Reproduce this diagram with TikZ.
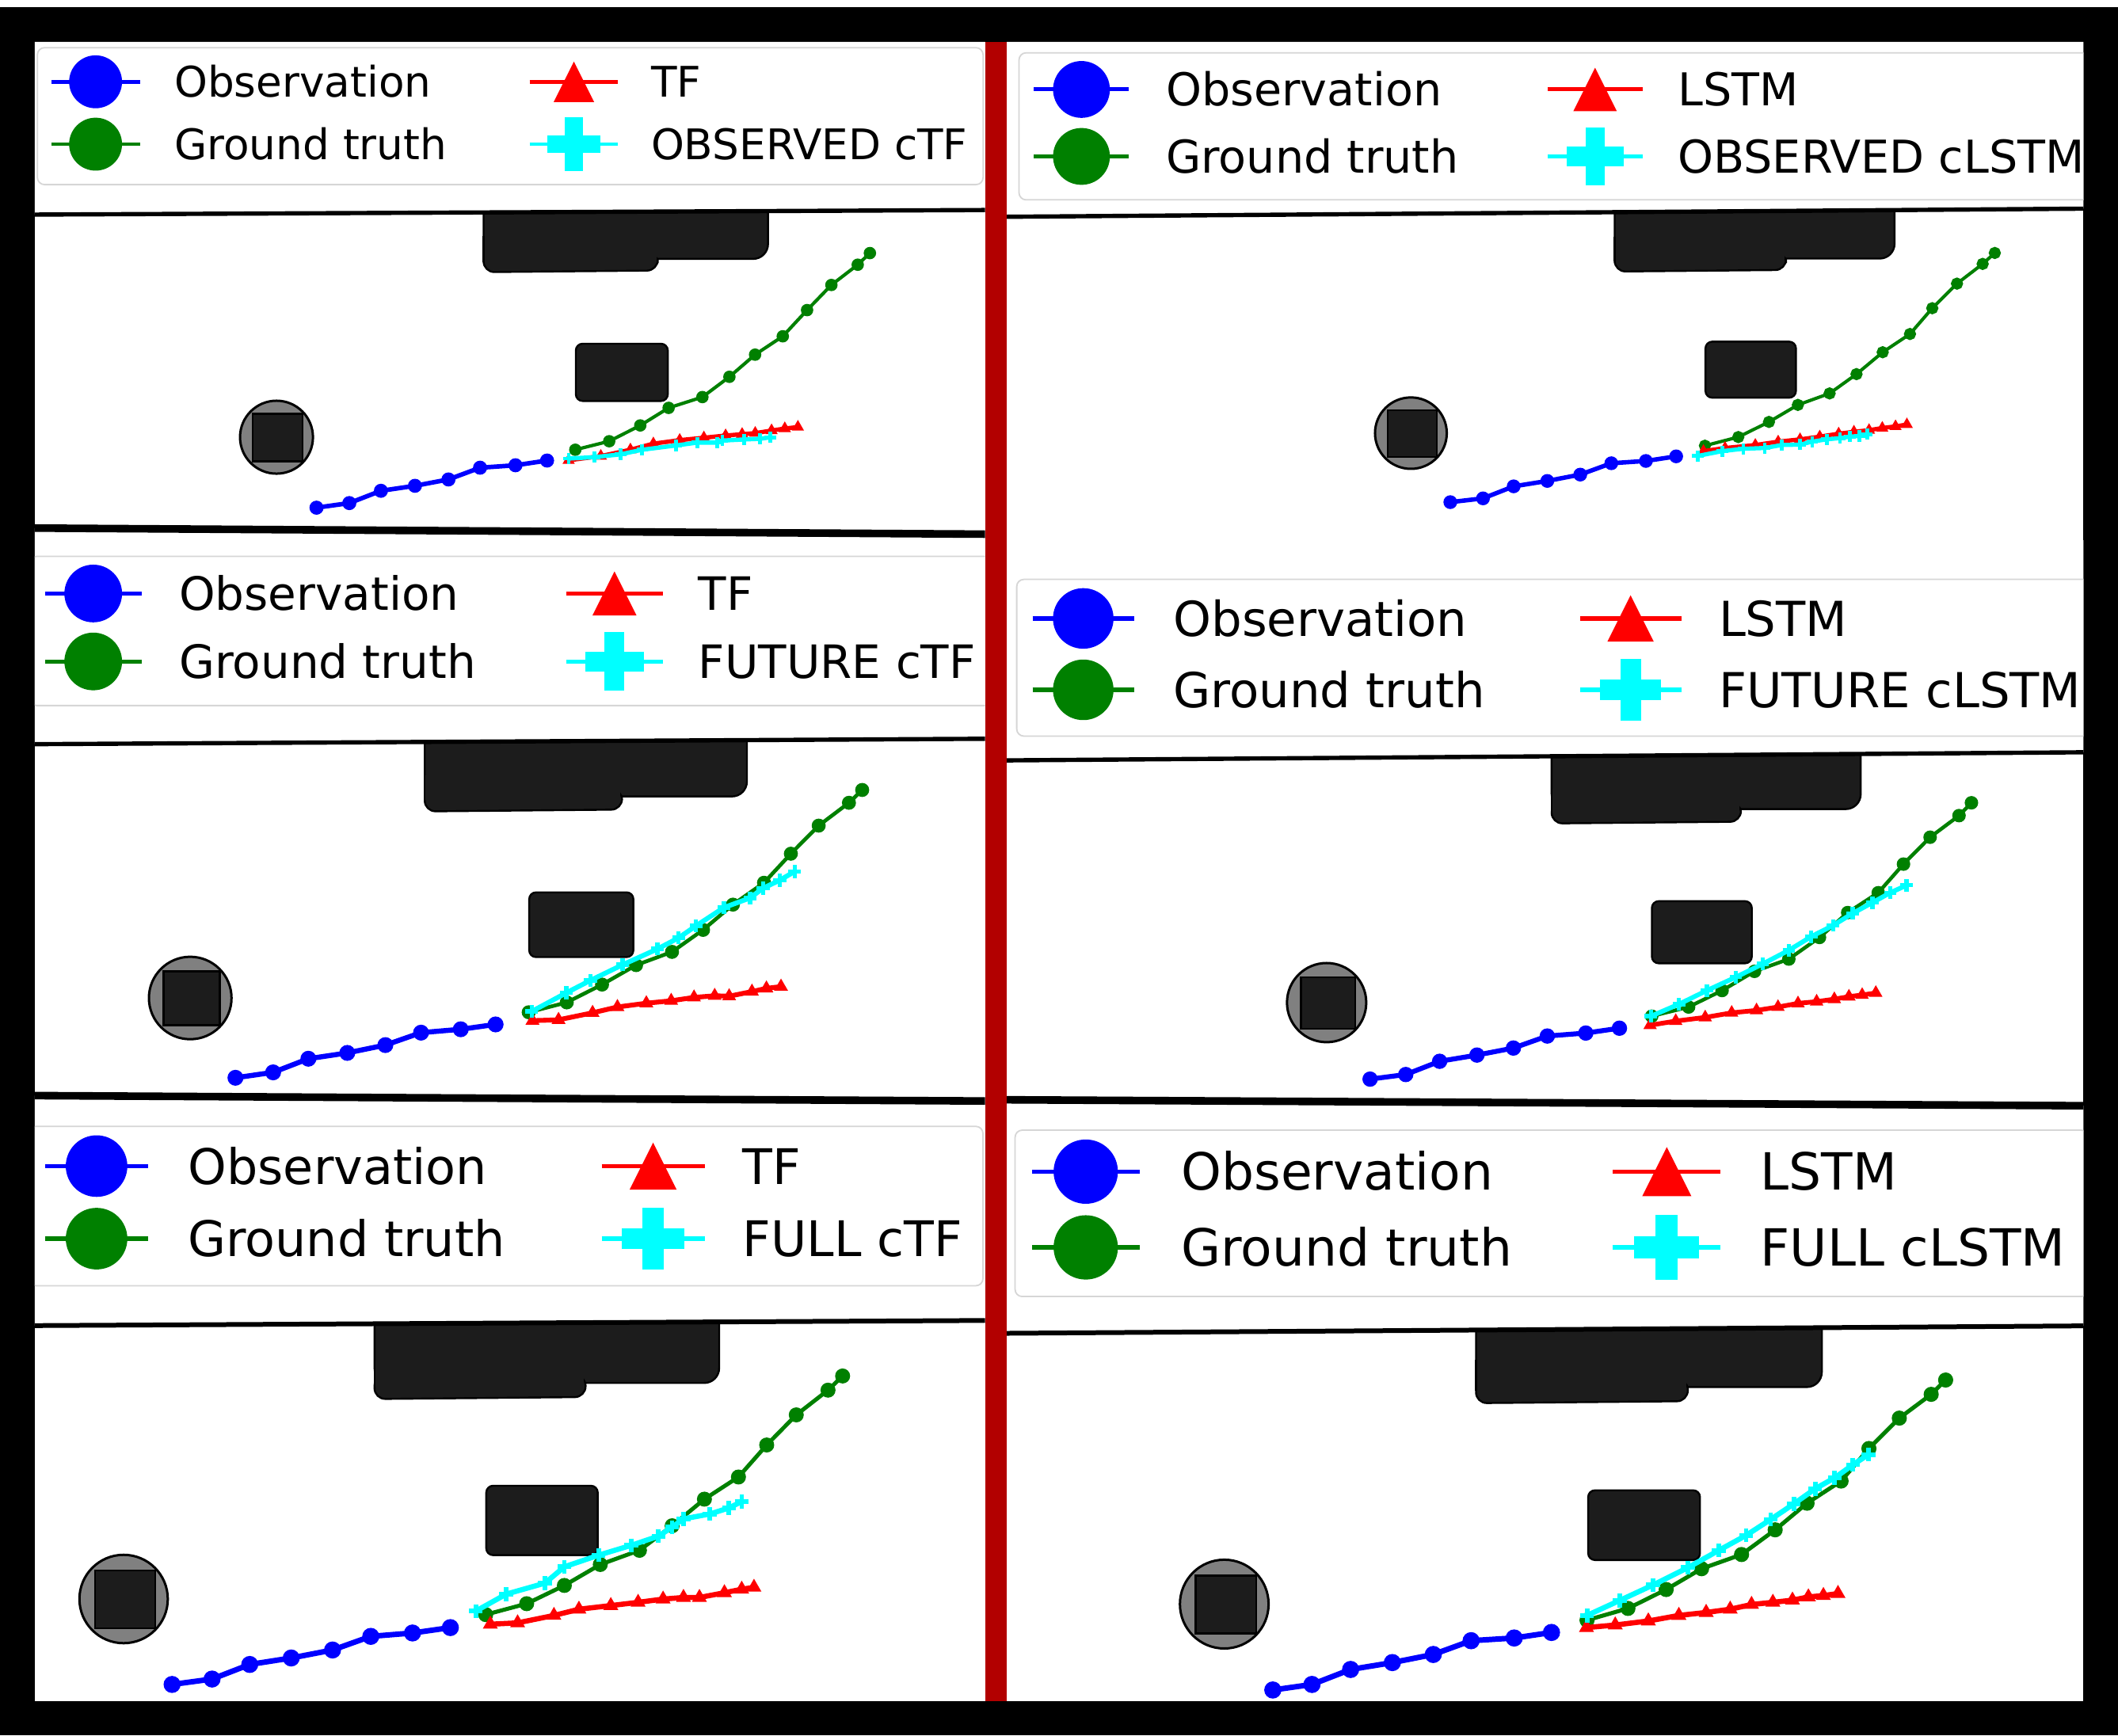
\documentclass[tikz,border=0pt]{standalone}
\usepackage{fontspec}
\setmainfont{DejaVu Sans}
\usetikzlibrary{plotmarks}
\definecolor{mplgreen}{RGB}{0,128,0}
\definecolor{mplcyan}{RGB}{0,255,255}
\definecolor{mplblue}{RGB}{0,0,255}
\definecolor{mplred}{RGB}{255,0,0}
\definecolor{obstdark}{RGB}{28,28,28}
\definecolor{obstgray}{RGB}{128,128,128}
\definecolor{splitred}{RGB}{178,0,0}

\newcommand{\roommap}{%
  \draw[obst, rounded corners=1.1mm] (358,140) -- (568.6,140) -- (568.6,191.7) -- (358,191.7) -- cycle;
  \draw[obst, rounded corners=0.8mm] (358,186.8) -- (487,186.8) -- (487,200.3) -- (358,201.5) -- cycle;
  \fill[obstdark] (358.4,178) rectangle (486,194);
  \draw[black, line width=0.4pt] (358,175) -- (358,194);
  \draw[obst, rounded corners=0.5mm] (426.3,254.5) rectangle (494.4,296.9);
  \draw[pillar] (204.7,323.7) circle[radius=27];
  \draw[obst] (187.2,306.3) rectangle (224.1,341.6);
}

\newcommand{\trajkey}[7]{%
  \pgfmathsetmacro\fsz{#3*0.2845}%
  \pgfmathsetmacro\hlw{#3*0.087*0.2845}%
  \draw[keybox] (#1,#2) rectangle (#4,{#2+3.25*#3});
  \draw[mplblue, line width=\hlw pt] ({#1+0.33*#3},{#2+0.81*#3}) -- ({#1+2.43*#3},{#2+0.81*#3});
  \fill[mplblue] ({#1+1.38*#3},{#2+0.81*#3}) circle[radius={0.628*#3}];
  \draw[mplgreen, line width=\hlw pt] ({#1+0.33*#3},{#2+2.29*#3}) -- ({#1+2.43*#3},{#2+2.29*#3});
  \fill[mplgreen] ({#1+1.38*#3},{#2+2.29*#3}) circle[radius={0.628*#3}];
  \draw[mplred, line width=\hlw pt] ({#1+11.68*#3},{#2+0.81*#3}) -- ({#1+13.78*#3},{#2+0.81*#3});
  \fill[mplred] ({#1+12.73*#3},{#2+0.33*#3}) -- ({#1+12.25*#3},{#2+1.29*#3}) -- ({#1+13.21*#3},{#2+1.29*#3}) -- cycle;
  \draw[mplcyan, line width=\hlw pt] ({#1+11.68*#3},{#2+2.29*#3}) -- ({#1+13.78*#3},{#2+2.29*#3});
  \fill[mplcyan] ({#1+12.095*#3},{#2+2.075*#3}) rectangle ({#1+13.365*#3},{#2+2.505*#3});
  \fill[mplcyan] ({#1+12.515*#3},{#2+1.655*#3}) rectangle ({#1+12.945*#3},{#2+2.925*#3});
  \node[keytext] (#7obs) at ({#1+3.23*#3},{#2+1.175*#3}) {Observation};
  \node[keytext] (#7gt) at ({#1+3.23*#3},{#2+2.655*#3}) {Ground truth};
  \node[keytext] (#7base) at ({#1+14.54*#3},{#2+1.175*#3}) {#5};
  \node[keytext] (#7cond) at ({#1+14.54*#3},{#2+2.655*#3}) {#6};
}

\begin{document}
\begin{tikzpicture}[x=0.01cm, y=-0.01cm,
    keybox/.style={fill=white, draw=black!16, line width=0.3pt, rounded corners=1.5pt},
    keytext/.style={anchor=base west, inner sep=0pt, font=\fontsize{\fsz pt}{\fsz pt}\selectfont},
    obst/.style={fill=obstdark, draw=black, line width=0.4pt},
    pillar/.style={fill=obstgray, draw=black, line width=0.5pt},
    wall/.style={draw=black, line width=#1},
    obsline/.style={color=mplblue, line width=0.95pt*#1, mark=*, mark size=1.0pt*#1},
    gtline/.style={color=mplgreen, line width=0.7pt*#1, mark=*, mark size=0.95pt*#1},
    tfline/.style={color=mplred, line width=0.9pt*#1, mark=triangle*, mark size=0.6pt*#1},
    ctfline/.style={color=mplcyan, line width=0.9pt*#1, mark=+, mark size=1.2pt*#1, mark options={line width=0.8pt*#1}}]
\useasboundingbox (0,0) rectangle (1568,1285);
\fill[black] (0,0) rectangle (1568,1285);
\fill[white] (0,0) rectangle (1568,5);
\fill[white] (25.8,31) rectangle (729.2,1259.6);
\fill[white] (745.3,31) rectangle (1542.4,1259.6);
\fill[splitred] (729.2,31) rectangle (745.3,1259.6);

\begin{scope}
  \clip (25.8,31) rectangle (729.2,1259.6);
  \roommap
  \begin{scope}[shift={(-91.0,373.0)}, xscale=1.1325, yscale=1.1305]
    \roommap
  \end{scope}
  \begin{scope}[shift={(-156.5,791.7)}, xscale=1.2116, yscale=1.2117]
    \roommap
  \end{scope}
  \fill[white] (25.8,31) -- (729.2,31) -- (729.2,155.5) -- (25.8,158.9) -- cycle;
  \fill[white] (25.8,391) -- (729.2,395.5) -- (729.2,547) -- (25.8,551) -- cycle;
  \fill[white] (25.8,811.2) -- (729.2,815.2) -- (729.2,977.7) -- (25.8,981.5) -- cycle;
  \draw[wall=0.9pt] (25.8,158.9) -- (729.2,155.5);
  \draw[wall=1.6pt] (25.8,391) -- (729.2,395.5);
  \draw[wall=0.9pt] (25.8,551) -- (729.2,547);
  \draw[wall=1.6pt] (25.8,811.2) -- (729.2,815.2);
  \draw[wall=1.0pt] (25.8,981.5) -- (729.2,977.7);

  \draw[obsline=1] plot coordinates {(234.3,375.9) (258.6,372.5) (282.0,363.4) (307.2,359.7) (332.0,355.0) (355.4,346.3) (381.6,344.5) (405.0,341.0)};
  \draw[gtline=1] plot coordinates {(425.9,333.0) (451.0,326.7) (474.0,315.0) (495.0,302.0) (520.0,294.0) (540.0,279.0) (559.0,262.6) (579.5,249.0) (597.5,229.6) (615.5,211.0) (635.0,196.0) (644.0,187.4)};
  \draw[tfline=1] plot coordinates {(421.0,340.8) (444.8,337.7) (466.7,333.0) (483.7,328.5) (503.2,325.9) (521.1,324.1) (537.2,322.5) (549.4,321.5) (559.1,320.7) (571.2,318.8) (581.0,317.3) (590.7,316.2)};
  \draw[ctfline=1] plot coordinates {(421.0,339.5) (440.0,338.5) (459.4,336.4) (475.4,333.0) (500.7,329.8) (516.3,327.7) (530.9,327.7) (534.8,326.2) (550.8,325.4) (562.5,324.9) (570.3,323.8)};

  \draw[obsline=1.13] plot coordinates {(174.3,798.0) (202.2,794.0) (228.3,783.9) (257.1,779.6) (285.3,773.8) (311.7,764.6) (341.1,762.1) (366.9,758.5)};
  \draw[gtline=1.13] plot coordinates {(391.4,749.5) (419.6,742.2) (445.7,729.0) (470.9,714.6) (497.5,704.8) (520.5,688.5) (542.6,669.8) (565.6,653.6) (585.5,632.1) (606.1,611.3) (628.5,594.4) (638.3,584.9)};
  \draw[tfline=1.13] plot coordinates {(394.2,755.7) (413.5,755.1) (438.7,749.9) (457.1,745.6) (478.5,742.8) (496.9,741.0) (513.8,738.5) (529.1,737.3) (539.8,737.6) (556.7,734.2) (567.4,731.8) (578.2,730.5)};
  \draw[ctfline=1.13] plot coordinates {(393.6,748.9) (419.3,735.1) (437.1,725.9) (461.0,714.3) (486.8,702.6) (502.4,694.4) (515.3,685.5) (535.9,672.0) (555.2,664.9) (565.0,657.6) (577.3,651.7) (588.3,645.3)};

  \draw[obsline=1.21] plot coordinates {(127.4,1247.2) (157.0,1243.2) (184.9,1232.4) (215.6,1227.6) (246.2,1221.7) (274.5,1211.6) (305.4,1209.1) (333.4,1205.1)};
  \draw[gtline=1.21] plot coordinates {(359.6,1195.5) (389.9,1187.4) (417.8,1173.9) (444.4,1158.4) (473.4,1147.9) (497.6,1129.7) (521.5,1110.0) (546.7,1093.6) (567.6,1069.9) (589.5,1047.6) (613.0,1029.3) (623.8,1018.8)};
  \draw[tfline=1.21] plot coordinates {(363.0,1202.6) (383.2,1201.6) (410.1,1196.1) (428.6,1191.5) (452.2,1188.8) (472.4,1186.4) (490.9,1184.0) (506.0,1182.8) (517.8,1182.8) (536.3,1179.3) (549.1,1176.7) (558.2,1175.3)};
  \draw[ctfline=1.21] plot coordinates {(352.2,1192.9) (374.8,1180.3) (403.4,1172.2) (417.8,1160.1) (443.1,1151.5) (467.3,1144.2) (487.5,1137.4) (497.6,1130.7) (506.0,1124.6) (525.5,1121.0) (539.7,1116.5) (549.1,1111.8)};

  \trajkey{27.7}{35.3}{31.2}{727.8}{TF}{OBSERVED cTF}{tl}
  \trajkey{22.1}{411.9}{34.0}{736}{TF}{FUTURE cTF}{ml}
  \trajkey{21.4}{834.0}{36.3}{727.7}{TF}{FULL cTF}{bl}
\end{scope}

\begin{scope}
  \clip (745.3,31) rectangle (1542.4,1259.6);
  \begin{scope}[shift={(843.1,3.8)}, xscale=0.984, yscale=0.979]
    \roommap
  \end{scope}
  \begin{scope}[shift={(759.7,391.0)}, xscale=1.0866, yscale=1.0854]
    \roommap
  \end{scope}
  \begin{scope}[shift={(657.5,793.6)}, xscale=1.2157, yscale=1.2175]
    \roommap
  \end{scope}
  \fill[white] (745.3,31) -- (1542.4,31) -- (1542.4,154.5) -- (745.3,160.5) -- cycle;
  \fill[white] (745.3,400) -- (1542.4,400) -- (1542.4,557) -- (745.3,563) -- cycle;
  \fill[white] (745.3,814.3) -- (1542.4,818.7) -- (1542.4,981.7) -- (745.3,987.2) -- cycle;
  \draw[wall=0.9pt] (745.3,160.5) -- (1542.4,154.5);
  \draw[wall=0.9pt] (745.3,563) -- (1542.4,557);
  \draw[wall=1.6pt] (745.3,814.3) -- (1542.4,818.7);
  \draw[wall=1.0pt] (745.3,987.2) -- (1542.4,981.7);

  \draw[obsline=0.98] plot coordinates {(1073.7,371.8) (1097.9,369.0) (1120.6,360.1) (1145.5,356.1) (1169.9,351.4) (1192.9,343.0) (1218.5,341.3) (1240.9,337.9)};
  \draw[gtline=0.98] plot coordinates {(1262.2,330.0) (1286.9,323.6) (1309.6,312.4) (1331.0,299.8) (1354.5,291.3) (1374.4,277.0) (1393.8,260.8) (1414.0,247.3) (1430.5,228.2) (1448.8,210.0) (1467.8,195.4) (1476.8,187.3)};
  \draw[tfline=0.98] plot coordinates {(1261.1,334.0) (1277.1,331.7) (1299.5,329.5) (1316.4,327.0) (1332.6,325.3) (1347.2,323.3) (1361.2,321.1) (1372.5,319.7) (1383.7,318.5) (1393.5,316.9) (1403.3,315.7) (1411.7,314.3)};
  \draw[ctfline=0.98] plot coordinates {(1256.9,337.6) (1275.1,334.0) (1290.6,332.3) (1306.5,331.7) (1319.2,329.5) (1332.6,329.2) (1341.6,327.0) (1352.3,325.3) (1362.1,324.4) (1369.7,323.3) (1376.7,322.8) (1382.3,321.6)};

  \draw[obsline=1.09] plot coordinates {(1014.3,799.0) (1040.7,795.6) (1065.8,785.8) (1093.4,781.2) (1120.4,776.0) (1145.5,767.1) (1174.0,764.9) (1198.9,761.3)};
  \draw[gtline=1.09] plot coordinates {(1222.8,752.4) (1250.1,745.6) (1274.9,733.4) (1298.9,719.2) (1324.3,710.1) (1347.0,694.1) (1367.9,675.7) (1390.5,661.0) (1409.2,639.8) (1428.9,619.9) (1450.3,603.9) (1459.5,594.4)};
  \draw[tfline=1.09] plot coordinates {(1221.6,759.1) (1240.6,756.0) (1262.4,753.3) (1282.0,749.9) (1300.4,748.1) (1316.3,745.6) (1331.1,742.9) (1344.9,741.6) (1358.0,739.8) (1368.8,737.9) (1378.6,736.7) (1388.7,735.2)};
  \draw[ctfline=1.09] plot coordinates {(1222.2,752.4) (1243.0,743.5) (1263.6,733.4) (1285.1,723.5) (1305.0,713.7) (1324.3,703.6) (1340.9,693.5) (1357.1,685.2) (1371.5,676.3) (1386.2,668.3) (1399.4,661.0) (1411.4,655.5)};

  \draw[obsline=1.22] plot coordinates {(942.3,1251.3) (971.3,1247.2) (999.9,1236.1) (1030.8,1231.0) (1061.1,1225.0) (1089.1,1214.8) (1121.0,1212.8) (1148.6,1208.7)};
  \draw[gtline=1.22] plot coordinates {(1174.9,1199.6) (1205.2,1190.9) (1233.5,1176.9) (1259.7,1161.5) (1289.3,1151.0) (1314.2,1132.7) (1337.8,1113.0) (1363.0,1096.6) (1383.6,1072.5) (1406.1,1050.0) (1429.7,1032.4) (1440.4,1021.8)};
  \draw[tfline=1.22] plot coordinates {(1174.5,1205.1) (1195.8,1203.2) (1220.3,1200.2) (1242.9,1196.1) (1263.1,1193.9) (1280.9,1191.5) (1296.7,1188.0) (1312.5,1186.4) (1327.0,1184.8) (1338.8,1182.4) (1349.9,1181.4) (1360.7,1179.9)};
  \draw[ctfline=1.22] plot coordinates {(1174.9,1196.1) (1199.1,1185.0) (1223.7,1173.6) (1249.6,1160.7) (1272.5,1147.9) (1292.7,1136.8) (1310.9,1125.0) (1328.0,1113.5) (1343.8,1102.3) (1358.3,1094.2) (1371.8,1084.5) (1383.2,1077.0)};

  \trajkey{754.4}{39.1}{33.5}{1600}{LSTM}{OBSERVED cLSTM}{tr}
  \trajkey{752.7}{429.0}{35.7}{1600}{LSTM}{FUTURE cLSTM}{mr}
  \trajkey{751.5}{836.8}{37.9}{1546}{LSTM}{FULL cLSTM}{br}
\end{scope}
\end{tikzpicture}
\end{document}
